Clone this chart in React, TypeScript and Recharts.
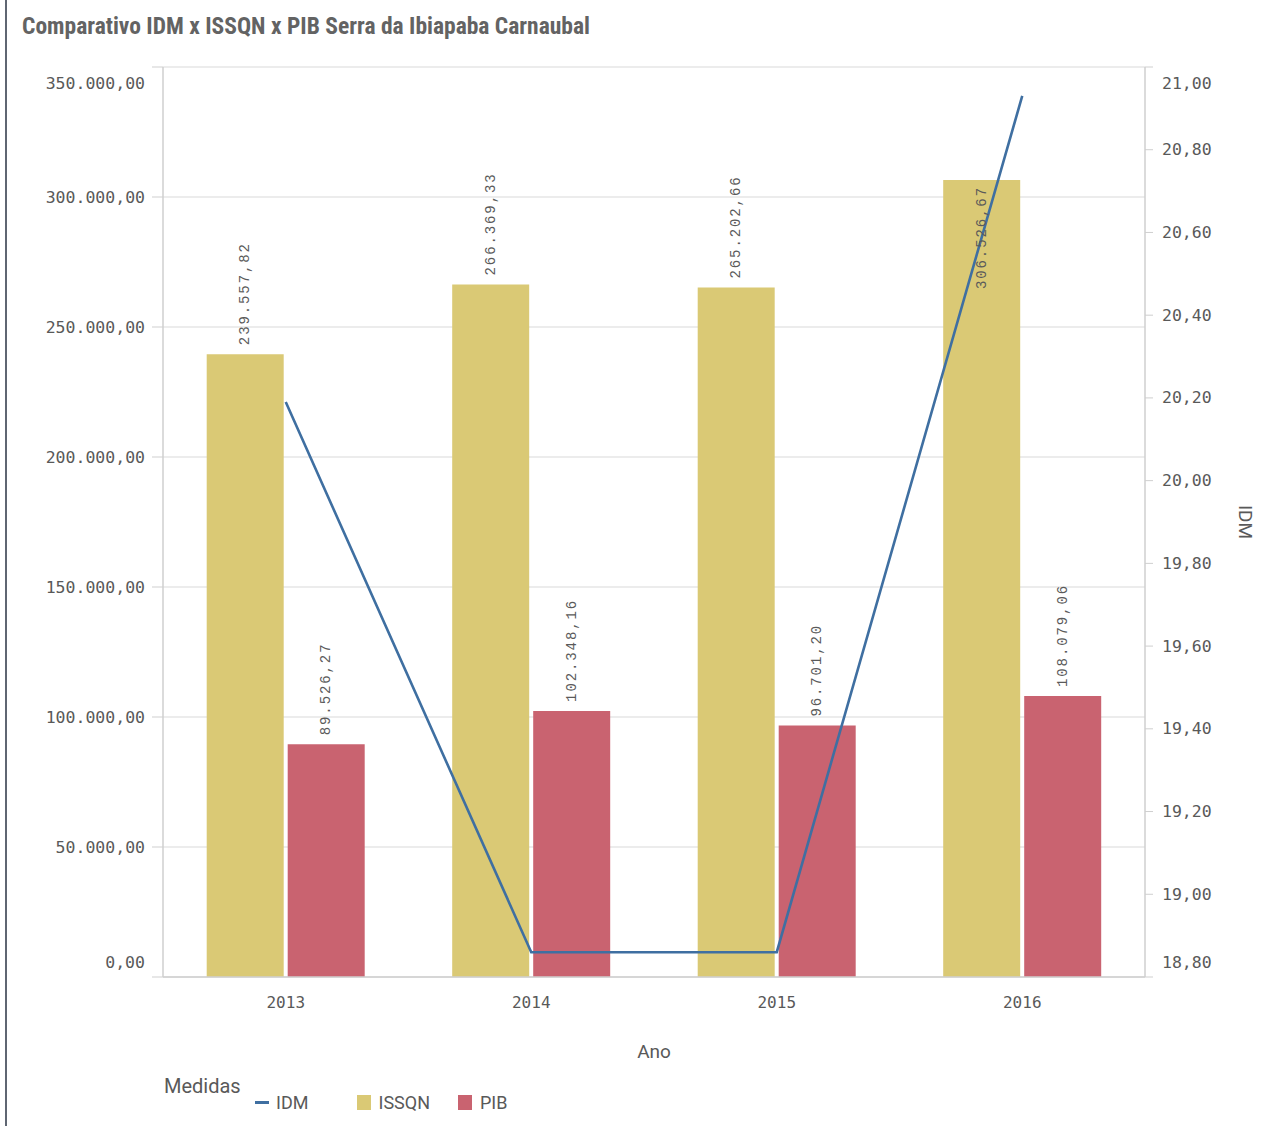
import React from 'react';
import {
  ComposedChart, Bar, Line, XAxis, YAxis, CartesianGrid, LabelList,
} from 'recharts';

const years = ['2013', '2014', '2015', '2016'];
const issqn = [239557.82, 266369.33, 265202.66, 306526.67];
const pib = [89526.27, 102348.16, 96701.2, 108079.06];
const idm = [20.19, 18.86, 18.86, 20.93];

const leftTicks = [0, 50000, 100000, 150000, 200000, 250000, 300000, 350000];
const rightTicks = [18.8, 19.0, 19.2, 19.4, 19.6, 19.8, 20.0, 20.2, 20.4, 20.6, 20.8, 21.0];

const seriesInfo = [
  { key: 'idm', name: 'IDM', color: '#3f6fa1', kind: 'line' },
  { key: 'issqn', name: 'ISSQN', color: '#dac975', kind: 'bar' },
  { key: 'pib', name: 'PIB', color: '#c96370', kind: 'bar' },
];

const data = years.map((y, i) => ({ ano: y, issqn: issqn[i], pib: pib[i], idm: idm[i] }));

function fmt(v: number): string {
  const neg = v < 0;
  const fixed = Math.abs(v).toFixed(2);
  const [intPart, dec] = fixed.split('.');
  const withDots = intPart.replace(/\B(?=(\d{3})+(?!\d))/g, '.');
  return (neg ? '-' : '') + withDots + ',' + dec;
}

const PLOT_TOP = 67;
const PLOT_BOTTOM = 977;
const TICK_FONT = '"DejaVu Sans Mono", monospace';
const TEXT_COLOR = '#595959';

const LeftTick = (props: any) => {
  const { x, y, payload } = props;
  let dy = 0;
  if (Math.abs(y - PLOT_TOP) < 2) dy = 16;
  if (Math.abs(y - PLOT_BOTTOM) < 2) dy = -15;
  return (
    <text x={x} y={y + dy} textAnchor="end" dominantBaseline="central"
      fontFamily={TICK_FONT} fontSize={16.5} fill={TEXT_COLOR}>
      {fmt(payload.value)}
    </text>
  );
};

const RightTick = (props: any) => {
  const { x, y, payload } = props;
  let dy = 0;
  if (Math.abs(y - PLOT_TOP) < 2) dy = 16;
  if (Math.abs(y - PLOT_BOTTOM) < 2) dy = -15;
  return (
    <text x={x} y={y + dy} textAnchor="start" dominantBaseline="central"
      fontFamily={TICK_FONT} fontSize={16.5} fill={TEXT_COLOR}>
      {fmt(payload.value)}
    </text>
  );
};

const XTick = (props: any) => {
  const { x, y, payload } = props;
  return (
    <text x={x} y={y + 23} textAnchor="middle" dominantBaseline="central"
      fontFamily={TICK_FONT} fontSize={16} fill={TEXT_COLOR}>
      {payload.value}
    </text>
  );
};

const LABEL_LEN = 104;
const BarValueLabel = (props: any) => {
  const vb = props.viewBox || {};
  const x = props.x ?? vb.x;
  const y = props.y ?? vb.y;
  const width = props.width ?? vb.width;
  const value = props.value;
  const cx = x + width / 2;
  let anchorY = y - 9;
  let anchor = 'start';
  if (anchorY - LABEL_LEN < PLOT_TOP + 12) {
    anchorY = y + 6;
    anchor = 'end';
  }
  return (
    <text x={cx} y={anchorY} textAnchor={anchor} dominantBaseline="central"
      transform={`rotate(-90, ${cx}, ${anchorY})`}
      fontFamily='"Liberation Mono", "Courier New", monospace' fontSize={14}
      letterSpacing={1.9} fill="#5a5a5a">
      {fmt(value)}
    </text>
  );
};

const IdmAxisLabel = (props: any) => {
  const vb = props.viewBox || {};
  const x = vb.x + 100;
  const y = vb.y + vb.height / 2;
  return (
    <text x={x} y={y} textAnchor="middle" dominantBaseline="central"
      transform={`rotate(90, ${x}, ${y})`}
      fontFamily="Roboto, sans-serif" fontSize={19} fill={TEXT_COLOR}>
      IDM
    </text>
  );
};

const AnoLabel = (props: any) => {
  const vb = props.viewBox || {};
  const x = vb.x + vb.width / 2;
  return (
    <text x={x} y={1051} textAnchor="middle" dominantBaseline="central"
      fontFamily="Roboto, sans-serif" fontSize={19} fill={TEXT_COLOR}>
      Ano
    </text>
  );
};

export default function App() {
  const lineS = seriesInfo[0];
  const barA = seriesInfo[1];
  const barB = seriesInfo[2];
  return (
    <div style={{ position: 'absolute', left: 0, top: 0, width: 1262, height: 1126, background: '#fff', overflow: 'hidden' }}>
      <div style={{ position: 'absolute', left: 5, top: 0, width: 2, height: 1126, background: '#5f6672' }} />
      <div style={{
        position: 'absolute', left: 22, top: 10, fontFamily: '"Liberation Sans Narrow", "Roboto Condensed", Roboto, sans-serif',
        fontWeight: 700, fontSize: 23.5, color: '#636363', whiteSpace: 'nowrap', lineHeight: '32px',
      }}>
        Comparativo IDM x ISSQN x PIB Serra da Ibiapaba Carnaubal
      </div>
      <div style={{ position: 'absolute', left: 0, top: 0 }}>
        <ComposedChart width={1262} height={1126} data={data}
          margin={{ top: PLOT_TOP, right: 0, bottom: 59, left: 0 }}
          barCategoryGap="17.8%" barGap={4}>
          <CartesianGrid yAxisId="left" vertical={false} stroke="#d9d9d9" strokeWidth={1.2} />
          <XAxis dataKey="ano" height={90} tick={<XTick />} tickLine={false} tickSize={0}
            axisLine={{ stroke: '#cfcfcf', strokeWidth: 1.5 }} label={<AnoLabel />} />
          <YAxis yAxisId="left" orientation="left" width={163} domain={[0, 350000]}
            ticks={leftTicks} interval={0} tick={<LeftTick />} tickSize={11} tickMargin={7}
            tickLine={{ stroke: '#cfcfcf' }} axisLine={{ stroke: '#cfcfcf', strokeWidth: 1.5 }}
            allowDataOverflow />
          <YAxis yAxisId="right" orientation="right" width={117} domain={[18.8, 21]}
            ticks={rightTicks} interval={0} tick={<RightTick />} tickSize={8} tickMargin={9}
            tickLine={{ stroke: '#cfcfcf' }} axisLine={{ stroke: '#cfcfcf', strokeWidth: 1.5 }}
            label={<IdmAxisLabel />} allowDataOverflow />
          <Bar yAxisId="left" dataKey={barA.key} name={barA.name} fill={barA.color} isAnimationActive={false}>
            <LabelList dataKey={barA.key} content={<BarValueLabel />} />
          </Bar>
          <Bar yAxisId="left" dataKey={barB.key} name={barB.name} fill={barB.color} isAnimationActive={false}>
            <LabelList dataKey={barB.key} content={<BarValueLabel />} />
          </Bar>
          <Line yAxisId="right" type="linear" dataKey={lineS.key} name={lineS.name} stroke={lineS.color}
            strokeWidth={2.6} dot={false} activeDot={false} isAnimationActive={false} />
        </ComposedChart>
      </div>
      <div style={{
        position: 'absolute', left: 164, top: 1072, fontFamily: 'Roboto, sans-serif', color: TEXT_COLOR,
        fontSize: 20, lineHeight: '28px',
      }}>
        Medidas
      </div>
      <div style={{
        position: 'absolute', left: 255, top: 1088, display: 'flex', alignItems: 'center', height: 28,
        fontFamily: 'Roboto, sans-serif', color: TEXT_COLOR,
      }}>
        {seriesInfo.map((s) => (
          <span key={s.key} style={{ display: 'flex', alignItems: 'center', width: 101.5, height: 28 }}>
            {s.kind === 'line' ? (
              <span style={{ display: 'inline-block', width: 14, height: 3, background: s.color, marginRight: 7 }} />
            ) : (
              <span style={{ display: 'inline-block', width: 14, height: 15, background: s.color, marginRight: 8 }} />
            )}
            <span style={{ fontSize: 18 }}>{s.name}</span>
          </span>
        ))}
      </div>
    </div>
  );
}
